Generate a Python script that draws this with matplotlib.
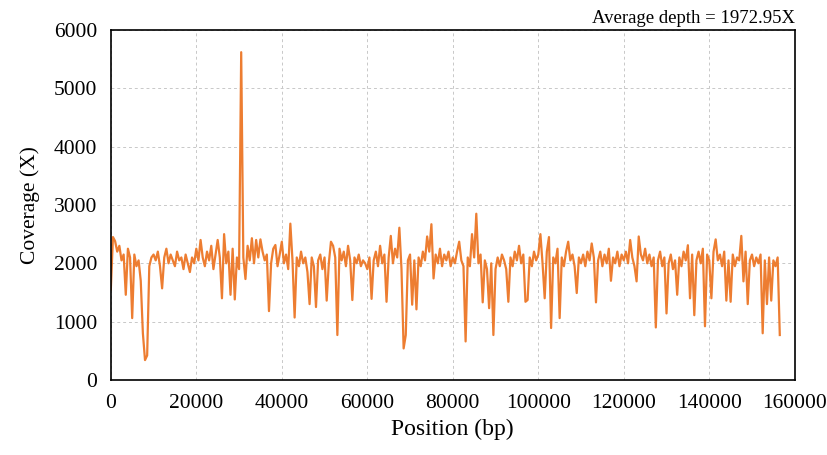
import matplotlib
matplotlib.use("Agg")
import matplotlib.pyplot as plt
import numpy as np

step_bp = 500
coverage = [
    # 0 - 9500
    1550, 2450, 2380, 2200, 2300, 2050, 2150, 1460, 2250, 2100,
    1060, 2150, 1950, 2050, 1700, 800, 340, 420, 1950, 2100,
    # 10000 - 19500
    2150, 2050, 2200, 1950, 1570, 2100, 2250, 2000, 2150, 2050,
    1950, 2200, 2050, 2100, 1900, 2150, 2000, 1850, 2100, 2000,
    # 20000 - 29500
    2250, 2050, 2400, 2100, 1950, 2200, 2050, 2300, 1900, 2150,
    2400, 2100, 1400, 2500, 2000, 2200, 1460, 2250, 1380, 2100,
    # 30000 - 39500
    1900, 5620, 2100, 1730, 2300, 2050, 2430, 2000, 2400, 2100,
    2410, 2200, 2050, 2150, 1180, 2000, 2250, 2314, 1950, 2150,
    # 40000 - 49500
    2370, 2000, 2150, 1900, 2680, 2050, 1070, 2100, 1950, 2200,
    2000, 2100, 1850, 1300, 2100, 1950, 1250, 2050, 2150, 1900,
    # 50000 - 59500
    2100, 1360, 2000, 2370, 2300, 2100, 770, 2250, 2050, 2200,
    1950, 2300, 2050, 1370, 2100, 2000, 2150, 1950, 2050, 2000,
    # 60000 - 69500
    1900, 2100, 1390, 2050, 2200, 1950, 2300, 2000, 2150, 1340,
    2100, 2470, 2000, 2250, 2100, 2610, 1900, 540, 770, 2050,
    # 70000 - 79500
    2150, 1290, 2050, 1210, 2100, 1950, 2200, 2050, 2460, 2200,
    2670, 1740, 2150, 2000, 2250, 1950, 2150, 2050, 2200, 1950,
    # 80000 - 89500
    2100, 2000, 2200, 2370, 2050, 1950, 660, 2100, 1950, 2500,
    2100, 2850, 2000, 2150, 1330, 2050, 1900, 1230, 2000, 770,
    # 90000 - 99500
    1900, 2100, 1950, 2150, 2050, 1900, 1340, 2100, 1950, 2200,
    2050, 2300, 2000, 2150, 1340, 1370, 2100, 1950, 2200, 2050,
    # 100000 - 109500
    2150, 2500, 2000, 1400, 2200, 2450, 890, 2100, 2000, 2250,
    1060, 2100, 1950, 2200, 2370, 2050, 2150, 1950, 1490, 2100,
    # 110000 - 119500
    2000, 2150, 1950, 2200, 2050, 2340, 2100, 1330, 2050, 2200,
    1950, 2150, 2000, 2250, 1700, 2100, 2000, 2200, 1950, 2150,
    # 120000 - 129500
    2050, 2200, 2000, 2400, 2100, 1950, 1690, 2460, 2150, 2050,
    2250, 2000, 2150, 1950, 2100, 900, 2050, 2200, 1950, 2100,
    # 130000 - 139500
    1140, 2000, 2150, 1900, 2050, 1460, 2100, 1950, 2200, 2050,
    2310, 1400, 2150, 1110, 2050, 2200, 2000, 2250, 920, 2150,
    # 140000 - 149500
    2050, 1400, 2200, 2410, 2050, 2150, 1950, 2200, 1360, 2050,
    1340, 2150, 1950, 2100, 2050, 2470, 1690, 2200, 1300, 2050,
    # 150000 - 156500
    2150, 1950, 2100, 2000, 2150, 800, 2050, 1300, 2100, 1360,
    2050, 1950, 2100, 770,
]
position = [i * step_bp for i in range(len(coverage))]

x_ticks = [0, 20000, 40000, 60000, 80000, 100000, 120000, 140000, 160000]
y_ticks = [0, 1000, 2000, 3000, 4000, 5000, 6000]
avg_label = "Average depth = 1972.95X"

plt.rcParams['font.family'] = ['Liberation Serif', 'DejaVu Serif']

fig = plt.figure(figsize=(8.27, 4.55), dpi=100)
ax = fig.add_axes([0.134, 0.165, 0.827, 0.769])

ax.plot(position, coverage, color='#ED7D31', linewidth=1.6)

ax.set_xlim(0, 160000)
ax.set_ylim(0, 6000)
ax.set_xticks(x_ticks)
ax.set_yticks(y_ticks)
ax.tick_params(axis='both', length=0, labelsize=15.5, pad=10, colors='black')
ax.grid(True, color='#c8c8c8', linestyle=(0, (3, 3)), linewidth=0.7)
ax.set_axisbelow(True)
for s in ax.spines.values():
    s.set_color('black')
    s.set_linewidth(1.2)

ax.set_xlabel('Position (bp)', fontsize=17, labelpad=4)
ax.set_ylabel('Coverage (X)', fontsize=15.5, labelpad=10)
ax.text(1.0, 1.01, avg_label, transform=ax.transAxes, ha='right', va='bottom', fontsize=13.5)

fig.savefig('out.png', dpi=100)
